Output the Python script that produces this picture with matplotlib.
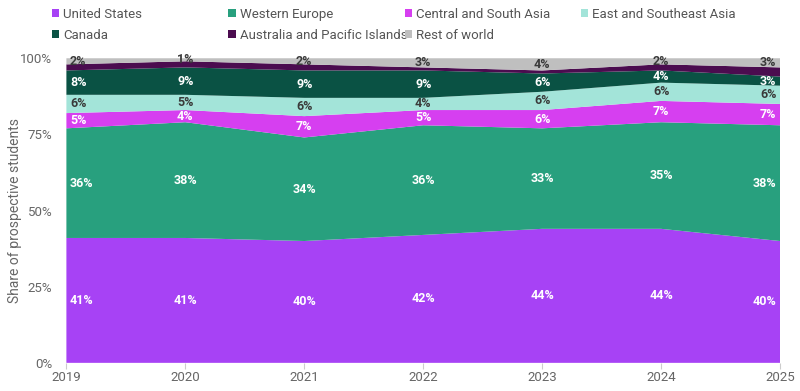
import numpy as np
import matplotlib.pyplot as plt
from matplotlib.ticker import PercentFormatter

plt.rcParams['font.family'] = ['Roboto', 'DejaVu Sans']

years = [2019, 2020, 2021, 2022, 2023, 2024, 2025]
regions = ["United States", "Western Europe", "Central and South Asia",
           "East and Southeast Asia", "Canada", "Australia and Pacific Islands",
           "Rest of world"]

us = [41, 41, 40, 42, 44, 44, 40]
western_europe = [36, 38, 34, 36, 33, 35, 38]
central_south_asia = [5, 4, 7, 5, 6, 7, 7]
east_se_asia = [6, 5, 6, 4, 6, 6, 6]
canada = [8, 9, 9, 9, 6, 4, 3]
australia = [2, 2, 2, 1, 1, 2, 3]
rest = [2, 1, 2, 3, 4, 2, 3]

colors = ["#a742f5", "#28a07e", "#d63ff0", "#a3e4d9", "#0a5244", "#4b0c4f", "#bfbfbf"]
label_colors = ["white", "white", "white", "#3a3a3a", "white", None, "#3a3a3a"]

series = np.array([us, western_europe, central_south_asia, east_se_asia,
                   canada, australia, rest], dtype=float)
shares = series / series.sum(axis=0)

fig, ax = plt.subplots(figsize=(8, 3.91), dpi=100)
fig.subplots_adjust(left=0.083, right=0.975, top=0.851, bottom=0.072)

polys = ax.stackplot(years, shares, colors=colors, linewidth=0)

# value labels in the middle of each band
bottoms = np.vstack([np.zeros(len(years)), np.cumsum(shares, axis=0)[:-1]])
for i, vals in enumerate(series):
    if label_colors[i] is None:
        continue
    for j, yr in enumerate(years):
        y = bottoms[i, j] + shares[i, j] / 2
        if j == 0:
            ha, dx = "left", 0.03
        elif j == len(years) - 1:
            ha, dx = "right", -0.03
        else:
            ha, dx = "center", 0
        ax.text(yr + dx, y, f"{int(vals[j])}%", ha=ha, va="center",
                color=label_colors[i], fontsize=9, fontweight="bold")

ax.set_xlim(2019, 2025)
ax.set_ylim(0, 1)
ax.set_xticks(years)
ax.set_yticks([0, 0.25, 0.5, 0.75, 1.0])
ax.yaxis.set_major_formatter(PercentFormatter(1.0, decimals=0))
ax.tick_params(axis="y", length=0, labelsize=9.5, labelcolor="#666666", pad=10)
ax.tick_params(axis="x", length=4, color="#cccccc", labelsize=9.5, labelcolor="#666666", pad=2)
ax.set_ylabel("Share of prospective students", fontsize=10, color="#666666", labelpad=-1)
for s in ax.spines.values():
    s.set_visible(False)

# legend: 4 fixed-width columns, filled row by row
for k, (poly, name) in enumerate(zip(polys, regions)):
    row, col = divmod(k, 4)
    fig.legend([poly], [name], loc="center left",
               bbox_to_anchor=(0.065 + col * 0.2205, 0.964 - row * 0.054),
               frameon=False, fontsize=9.5, labelcolor="#555555",
               handlelength=0.55, handleheight=0.55, handletextpad=0.3,
               borderpad=0, borderaxespad=0)

plt.savefig("out.png", dpi=100)
